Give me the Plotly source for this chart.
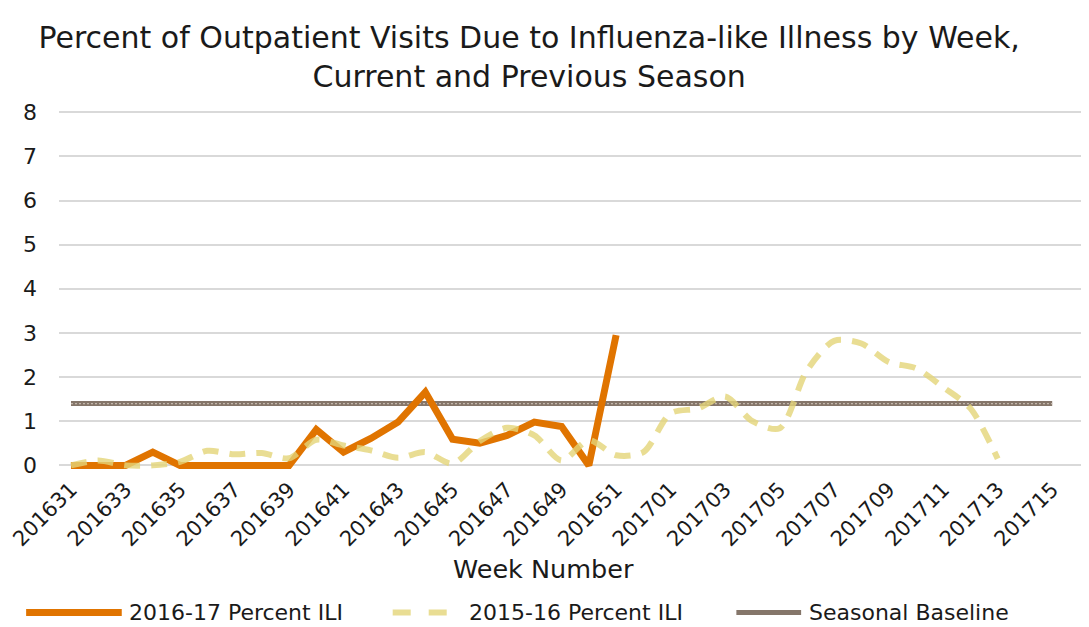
import plotly.graph_objects as go

# ---- data ----
weeks_2016 = [f"2016{w:02d}" for w in range(31, 53)]
weeks_2017 = [f"2017{w:02d}" for w in range(1, 16)]
categories = weeks_2016 + weeks_2017

ili_2016_17 = [0, 0, 0, 0.30, 0, 0, 0, 0, 0, 0.81, 0.30, 0.61, 0.98, 1.66,
               0.59, 0.50, 0.68, 0.98, 0.88, 0, 2.95]
ili_2015_16 = [0, 0.11, 0.0, 0.0, 0.08, 0.33, 0.25, 0.28, 0.16, 0.58, 0.45,
               0.34, 0.17, 0.30, 0.04, 0.55, 0.85, 0.68, 0.11, 0.57, 0.23,
               0.30, 1.18, 1.29, 1.56, 1.00, 0.84, 2.15, 2.82, 2.76, 2.34,
               2.20, 1.77, 1.29, 0.15]
baseline_value = 1.4
baseline = [baseline_value] * len(categories)

tick_labels = categories[::2]
y_ticks = [0, 1, 2, 3, 4, 5, 6, 7, 8]

series_names = ["2016-17 Percent ILI", "2015-16 Percent ILI", "Seasonal Baseline"]

# ---- style ----
FONT = "DejaVu Sans"
ORANGE = "#E07400"
YELLOW = "rgba(228,212,120,0.8)"
BASE = "#85766a"
BASE_TEX = "#c4b8ac"

OFF = 8  # page body margin
W, H = 1089 - OFF, 627 - OFF
L, R, T, B = 55 - OFF, 0, 110 - OFF, 155.4
PW = W - L - R
PH = H - T - B


def px_x(p):
    return (p - OFF - L) / PW


def px_y(p):
    return (H - B - (p - OFF)) / PH


fig = go.Figure()
fig.add_trace(go.Scatter(x=categories, y=baseline, mode="lines",
                         line=dict(color=BASE, width=5), name=series_names[2],
                         showlegend=False))
fig.add_trace(go.Scatter(x=categories, y=baseline, mode="lines",
                         line=dict(color=BASE_TEX, width=1.2, dash="2px,2px"),
                         showlegend=False, hoverinfo="skip"))
fig.add_trace(go.Scatter(x=categories[:len(ili_2016_17)], y=ili_2016_17, mode="lines",
                         line=dict(color=ORANGE, width=7), name=series_names[0],
                         showlegend=False))
fig.add_trace(go.Scatter(x=categories[:len(ili_2015_16)], y=ili_2015_16, mode="lines",
                         line=dict(color=YELLOW, width=6, dash="16px,11px",
                                   shape="spline", smoothing=0.8),
                         name=series_names[1], showlegend=False))

# custom legend (decoration)
legend_y = 612
leg = [
    (22, 118, 123, dict(color=ORANGE, width=7), series_names[0]),
    (390, 460, 465, dict(color=YELLOW, width=6, dash="dash"), series_names[1]),
    (735, 800, 806, dict(color=BASE, width=5), series_names[2]),
]
shapes = []
annotations = []
for x0, x1, tx, ln, txt in leg:
    shapes.append(dict(type="line", xref="paper", yref="paper",
                       x0=px_x(x0), x1=px_x(x1), y0=px_y(legend_y), y1=px_y(legend_y),
                       line=ln))
    annotations.append(dict(text=txt, xref="paper", yref="paper", x=px_x(tx),
                            y=px_y(legend_y), xanchor="left", yanchor="middle",
                            showarrow=False, font=dict(family=FONT, size=22, color="#1a1a1a")))

annotations.append(dict(text="Week Number", xref="paper", yref="paper", x=px_x(541),
                        y=px_y(568), xanchor="center", yanchor="middle", showarrow=False,
                        font=dict(family=FONT, size=25.5, color="#1a1a1a")))

fig.update_layout(
    width=W, height=H,
    margin=dict(l=L, r=R, t=T, b=B),
    paper_bgcolor="white", plot_bgcolor="white",
    showlegend=False,
    title=dict(text="Percent of Outpatient Visits Due to Influenza-like Illness by Week,<br>Current and Previous Season",
               x=px_x(527), xanchor="center", xref="paper", yref="container",
               y=1 - (48 - OFF) / H, yanchor="middle",
               font=dict(family=FONT, size=30, color="#1a1a1a")),
    xaxis=dict(type="category", categoryorder="array", categoryarray=categories,
               range=[-0.44, 37.35], tickmode="array", tickvals=tick_labels,
               ticktext=tick_labels, tickangle=-45, showgrid=False, zeroline=False,
               showline=False, ticks="",
               tickfont=dict(family=FONT, size=21, color="#1a1a1a")),
    yaxis=dict(range=[-0.15, 8.05], tickmode="array", tickvals=y_ticks,
               showgrid=True, gridcolor="#d9d9d9", gridwidth=1.5, zeroline=False,
               showline=False, ticks="", ticklabelstandoff=21,
               tickfont=dict(family=FONT, size=22, color="#1a1a1a")),
    shapes=shapes,
    annotations=annotations,
)

fig.write_html("out.html")
